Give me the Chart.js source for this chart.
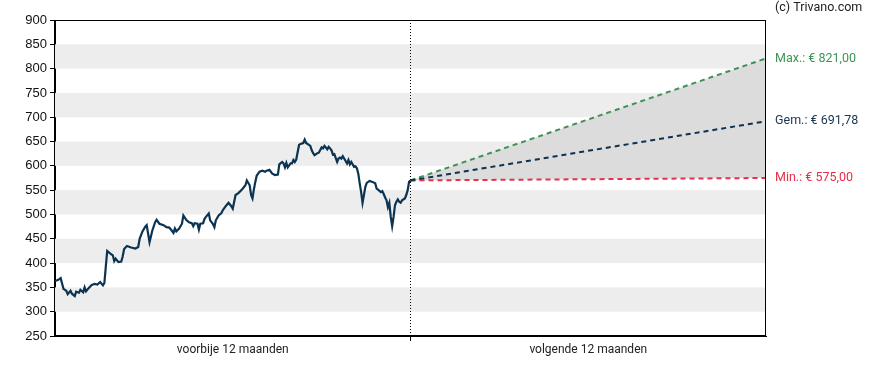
<!DOCTYPE html>
<html>
<head>
<meta charset="utf-8">
<script src="https://cdn.jsdelivr.net/npm/chart.js@4.4.1/dist/chart.umd.min.js"></script>
<style>
  html, body { margin: 0; padding: 0; background: #fff; }
  #wrap { width: 888px; height: 370px; }
</style>
</head>
<body>
<div id="wrap"><canvas id="c" width="888" height="370"></canvas></div>
<script>
// trading day index for the past 12 months
const pastDays = [0, 2, 3, 4, 6, 8, 9, 11, 12, 14, 15, 17, 18, 20, 21, 22, 24, 25, 26, 27,
  28, 30, 32, 34, 35, 36, 37, 39, 41, 42, 43, 45, 47, 48, 49, 51, 53, 54, 57, 59,
  60, 62, 64, 65, 67, 69, 71, 72, 74, 77, 79, 81, 83, 84, 85, 86, 88, 90, 91, 93,
  95, 97, 98, 99, 101, 102, 103, 105, 106, 107, 109, 110, 112, 113, 114, 116, 118, 119, 121, 123,
  125, 126, 128, 130, 132, 133, 135, 136, 138, 139, 140, 141, 142, 143, 144, 145, 147, 149, 150, 152,
  154, 156, 158, 159, 161, 162, 163, 164, 165, 167, 168, 169, 170, 171, 173, 174, 176, 177, 178, 180,
  181, 182, 183, 184, 186, 187, 189, 190, 191, 193, 194, 195, 196, 197, 198, 200, 201, 202, 203, 204,
  206, 207, 208, 209, 210, 212, 213, 214, 215, 216, 217, 218, 219, 220, 221, 223, 225, 227, 228, 229,
  231, 232, 233, 234, 235, 236, 237, 238, 239, 240, 241, 242, 243, 244, 245, 246, 248, 249, 250, 251,
  252];

const pastPrices = [363, 365, 367, 369, 347, 343, 336, 343, 337, 332, 341, 339, 345, 340, 350, 342, 349, 352, 355, 356,
  357, 356, 361, 354, 359, 392, 425, 420, 416, 404, 409, 402, 403, 414, 429, 435, 433, 432, 430, 433,
  450, 465, 475, 478, 443, 467, 484, 489, 481, 478, 474, 473, 466, 462, 471, 465, 471, 481, 498, 489,
  484, 482, 476, 482, 481, 469, 481, 482, 491, 495, 502, 488, 480, 474, 488, 498, 503, 509, 517, 524,
  517, 512, 540, 544, 550, 553, 560, 570, 560, 540, 533, 552, 567, 580, 584, 588, 590, 588, 590, 592,
  584, 581, 582, 603, 608, 605, 597, 606, 597, 605, 605, 612, 608, 613, 643, 645, 647, 654, 647, 643,
  641, 632, 626, 622, 626, 627, 638, 636, 641, 634, 639, 636, 632, 623, 624, 608, 615, 617, 615, 620,
  610, 605, 612, 603, 608, 598, 599, 595, 584, 564, 546, 524, 540, 557, 565, 569, 567, 564, 553, 551,
  546, 548, 542, 535, 529, 515, 524, 495, 476, 495, 519, 526, 531, 526, 524, 529, 533, 540, 550, 567,
  570];

// forecast for the next 12 months
const forecastDays = [252, 504];
const forecastMax = [570, 821.00];
const forecastGem = [570, 691.78];
const forecastMin = [570, 575.00];

const periodLabels = ["voorbije 12 maanden", "volgende 12 maanden"];
const yMin = 250, yMax = 900, yStep = 50;

const euro = v => "€ " + v.toFixed(2).replace(".", ",");
const pts = (xs, ys) => xs.map((x, i) => ({ x: x, y: ys[i] }));

const split = forecastDays[0];
const end = forecastDays[forecastDays.length - 1];

const decor = {
  id: "decor",
  beforeDatasetsDraw(chart) {
    const { ctx, chartArea: a, scales: { y } } = chart;
    ctx.save();
    ctx.fillStyle = "#ededed";
    for (let v = yMin + yStep; v < yMax; v += 2 * yStep) {
      const t = y.getPixelForValue(v + yStep), b = y.getPixelForValue(v);
      ctx.fillRect(a.left, t, a.right - a.left, b - t);
    }
    ctx.restore();
  },
  afterDatasetsDraw(chart) {
    const { ctx, chartArea: a, scales: { x } } = chart;
    ctx.save();
    const sx = Math.round(x.getPixelForValue(split)) - 0.5;
    ctx.strokeStyle = "#000";
    ctx.lineWidth = 1;
    ctx.setLineDash([1, 2]);
    ctx.beginPath();
    ctx.moveTo(sx, a.top);
    ctx.lineTo(sx, a.bottom);
    ctx.stroke();
    ctx.setLineDash([]);
    ctx.strokeRect(Math.round(a.left) - 0.5, Math.round(a.top) + 0.5,
      Math.round(a.right - a.left), Math.round(a.bottom - a.top) - 1);
    ctx.restore();
  },
  afterDraw(chart) {
    const { ctx, chartArea: a, scales: { y } } = chart;
    ctx.save();
    ctx.font = "12.5px Roboto";
    ctx.textBaseline = "middle";
    ctx.textAlign = "left";
    const lx = a.right + 9;
    ctx.fillStyle = "#222";
    ctx.fillText("(c) Trivano.com", lx, 8);
    const last = forecastMax.length - 1;
    ctx.fillStyle = "#3a9656";
    ctx.fillText("Max.: " + euro(forecastMax[last]), lx, y.getPixelForValue(forecastMax[last]));
    ctx.fillStyle = "#1a3550";
    ctx.fillText("Gem.: " + euro(forecastGem[last]), lx, y.getPixelForValue(forecastGem[last]));
    ctx.fillStyle = "#e8304a";
    ctx.fillText("Min.: " + euro(forecastMin[last]), lx, y.getPixelForValue(forecastMin[last]));
    ctx.restore();
  }
};

new Chart(document.getElementById("c"), {
  type: "line",
  data: {
    datasets: [
      {
        data: pts(pastDays, pastPrices),
        borderColor: "#0b3352",
        borderWidth: 2.2,
        pointRadius: 0,
        tension: 0,
      },
      {
        data: pts(forecastDays, forecastGem),
        borderColor: "#0e3150",
        borderWidth: 2,
        borderDash: [5, 4],
        pointRadius: 0,
      },
      {
        data: pts(forecastDays, forecastMin),
        borderColor: "#e8304a",
        borderWidth: 2,
        borderDash: [5, 4],
        pointRadius: 0,
      },
      {
        data: pts(forecastDays, forecastMax),
        borderColor: "#3f9156",
        borderWidth: 2,
        borderDash: [5, 4],
        pointRadius: 0,
        fill: 2,
        backgroundColor: "#dcdcdc",
      },
    ],
  },
  options: {
    responsive: false,
    animation: false,
    layout: { padding: { top: 20, right: 122, left: 0, bottom: 0 } },
    plugins: { legend: { display: false }, tooltip: { enabled: false } },
    scales: {
      x: {
        type: "linear",
        min: 0,
        max: end,
        afterBuildTicks(scale) {
          scale.ticks = [split / 2, split, (split + end) / 2].map(v => ({ value: v }));
        },
        afterFit(scale) { scale.height = 34; },
        ticks: {
          autoSkip: false,
          maxRotation: 0,
          padding: 2,
          color: "#222",
          font: { family: "Roboto", size: 12 },
          callback(v) {
            if (v === split / 2) return periodLabels[0];
            if (v === (split + end) / 2) return periodLabels[1];
            return "";
          },
        },
        grid: {
          drawOnChartArea: false,
          tickLength: 5,
          tickColor: ctx => (ctx.tick && ctx.tick.value === split ? "#000" : "rgba(0,0,0,0)"),
        },
        border: { color: "#000", width: 1 },
      },
      y: {
        min: yMin,
        max: yMax,
        afterFit(scale) { scale.width = 55; },
        ticks: {
          stepSize: yStep,
          padding: 3,
          color: "#111",
          font: { family: "Liberation Sans", size: 13 },
        },
        grid: { drawOnChartArea: false, tickLength: 5, tickColor: "#000" },
        border: { color: "#000", width: 1 },
      },
    },
  },
  plugins: [decor],
});
</script>
</body>
</html>
